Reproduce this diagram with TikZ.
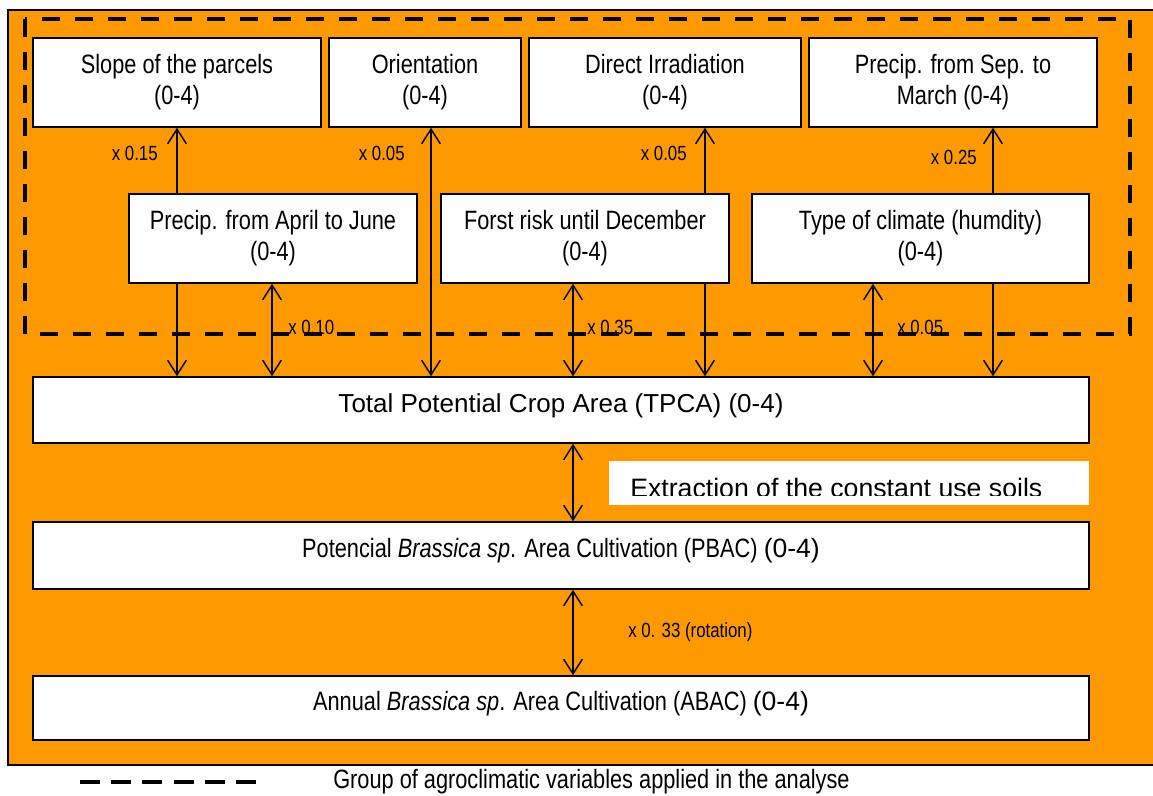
\documentclass[tikz,border=0pt]{standalone}
\usepackage{fontspec}
\setmainfont{Liberation Sans}[FakeStretch=0.82]
\newfontfamily\widefont{Liberation Sans}
\usetikzlibrary{arrows.meta}
\definecolor{bgorange}{RGB}{255,153,0}
\pgfdeclarelayer{bg}
\pgfdeclarelayer{links}
\pgfsetlayers{bg,links,main}

\begin{document}
\begin{tikzpicture}[x=0.75pt,y=-0.75pt,
  % span={left}{top}{right}{bottom}: a box given by its corners
  span/.style n args={4}{minimum width={(#3-#1)*0.75pt},minimum height={(#4-#2)*0.75pt},
    at={({(#1+#3)/2},{(#2+#4)/2})}},
  box/.style={draw=black,fill=white,line width=1.2pt,inner sep=0pt,align=center,
    font=\fontsize{19.9}{23.3}\selectfont},
  areabox/.style={box,text depth=11pt},
  widebox/.style={areabox,font=\widefont\fontsize{19.5}{23}\selectfont},
  barb/.tip={Straight Barb[length=11pt,width=14pt,line width=1.1pt]},
  link/.style={line width=1.1pt,barb-barb},
  weight/.style={inner sep=0pt,font=\fontsize{15.4}{18}\selectfont},
  groupline/.style={line width=3pt,dash pattern=on 13.5pt off 11.25pt},
  legendline/.style={line width=3.5pt,dash pattern=on 15pt off 8.4pt}]

\useasboundingbox (0,0) rectangle (1153,796);

% background panel
\begin{pgfonlayer}{bg}
  \fill[white] (0,0) rectangle (1153,796);
  \fill[bgorange] (8,10) rectangle (1175,765);
  \draw[line width=1.5pt] (8,10) rectangle (1175,765);
\end{pgfonlayer}

% agroclimatic variables, upper row
\node[box,span={33}{38}{321}{127}] (slope) {Slope of the parcels\\(0-4)};
\node[box,span={329}{38}{521}{127}] (orient) {Orientation\\(0-4)};
\node[box,span={529}{38}{801}{127}] (irrad) {Direct Irradiation\\(0-4)};
\node[box,span={809}{38}{1097}{127}] (precsm) {Precip. from Sep. to\\March (0-4)};

% agroclimatic variables, lower row
\node[box,span={129}{194}{417}{283}] (precaj) {Precip. from April to June\\(0-4)};
\node[box,span={441}{194}{729}{283}] (frost) {Forst risk until December\\(0-4)};
\node[box,span={752}{194}{1089}{283}] (climate) {Type of climate (humdity)\\(0-4)};

% area chain
\node[widebox,span={33}{377}{1089}{443}] (tpca) {Total Potential Crop Area (TPCA) (0-4)};
\node[areabox,span={33}{522}{1089}{589}] (pbac) {Potencial \textit{Brassica sp}. Area Cultivation (PBAC) {\widefont (0-4)}};
\node[areabox,span={33}{676}{1089}{740}] (abac) {Annual \textit{Brassica sp}. Area Cultivation (ABAC) {\widefont (0-4)}};

% extraction note (text cut off at the bottom)
\node[fill=white,inner sep=0pt,span={609}{461}{1089}{505}] (ext) {};
\begin{scope}
  \clip (609,461) rectangle (1089,495);
  \node[anchor=base west,inner sep=0pt,font=\widefont\fontsize{20}{24}\selectfont] (exttxt) at (630,497) {Extraction of the constant use soils};
\end{scope}

% weighted links
\begin{pgfonlayer}{links}
  \draw[link] (177,0 |- slope.south) -- (177,0 |- tpca.north);
  \draw[link] (272,0 |- precaj.south) -- (272,0 |- tpca.north);
  \draw[link] (431,0 |- orient.south) -- (431,0 |- tpca.north);
  \draw[link] (573,0 |- frost.south) -- (573,0 |- tpca.north);
  \draw[link] (705,0 |- irrad.south) -- (705,0 |- tpca.north);
  \draw[link] (873,0 |- climate.south) -- (873,0 |- tpca.north);
  \draw[link] (993,0 |- precsm.south) -- (993,0 |- tpca.north);
  \draw[link] (573,0 |- tpca.south) -- (573,0 |- pbac.north);
  \draw[link] (573,0 |- pbac.south) -- (573,0 |- abac.north);
\end{pgfonlayer}

% weights
\node[weight,anchor=east] (w1) at (158,153) {x 0.15};
\node[weight,anchor=east] (w2) at (405,153) {x 0.05};
\node[weight,anchor=east] (w3) at (687,153) {x 0.05};
\node[weight,anchor=east] (w4) at (977,157) {x 0.25};
\node[weight,anchor=west] (w5) at (288,327) {x 0.10};
\node[weight,anchor=west] (w6) at (587,327) {x 0.35};
\node[weight,anchor=west] (w7) at (897,327) {x 0.05};
\node[weight,anchor=west] (w8) at (628,632) {x 0. 33 (rotation)};

% group of agroclimatic variables
\draw[groupline] (25,19) rectangle (1130,334);

% legend
\coordinate (legA) at (80,782);
\coordinate (legB) at (258,782);
\draw[legendline] (legA) -- (legB);
\node[anchor=west,inner sep=0pt,font=\fontsize{19.9}{23.3}\selectfont] (legtxt) at (333,782) {Group of agroclimatic variables applied in the analyse};
\end{tikzpicture}
\end{document}
